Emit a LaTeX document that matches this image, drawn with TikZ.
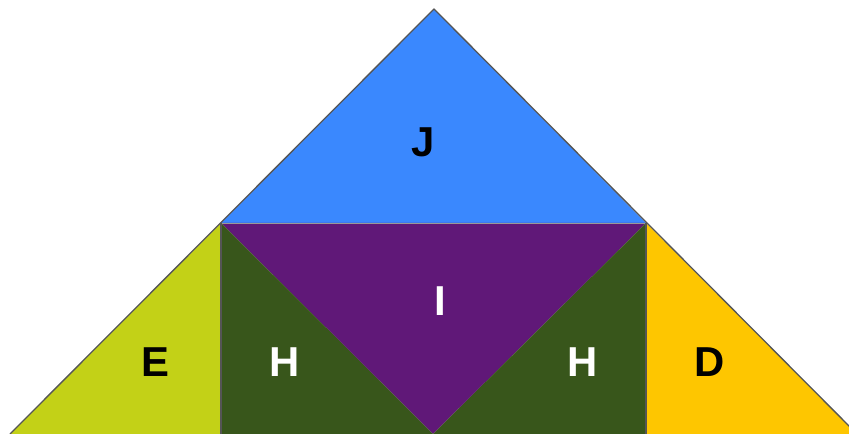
\documentclass[tikz,border=0pt]{standalone}
\usepackage{fontspec}
\setmainfont{Liberation Sans}
\usetikzlibrary{positioning}
\definecolor{skyblue}{HTML}{3A88FE}
\definecolor{plum}{HTML}{601878}
\definecolor{forest}{HTML}{38561B}
\definecolor{lime}{HTML}{C3D117}
\definecolor{amber}{HTML}{FEC600}
\definecolor{edgegray}{HTML}{555555}

\begin{document}
\begin{tikzpicture}[x=1bp, y=-1bp, edge/.style={draw=edgegray, line width=1.3bp, line join=round}, seam/.style={draw=edgegray!60, line width=0.9bp}, letter/.style={font=\fontsize{42}{42}\selectfont\bfseries, inner sep=0pt}]
\useasboundingbox (0,0) rectangle (849,434);
\clip (0,0) rectangle (849,434);
% corners of the pieces
\coordinate (apex) at (434,9);
\coordinate (jleft) at (221,223);
\coordinate (jright) at (646,223);
\coordinate (baseleft) at (10,434);
\coordinate (basemid) at (433,434);
\coordinate (baseright) at (857,434);
\coordinate (efoot) at (221,434);
\coordinate (dfoot) at (646,434);
% pieces
\fill[skyblue] (apex)--(jleft)--(jright)--cycle;
\fill[plum] (jleft)--(jright)--(basemid)--cycle;
\fill[forest] (jleft)--(efoot)--(basemid)--cycle;
\fill[forest] (jright)--(dfoot)--(basemid)--cycle;
\fill[lime] (jleft)--(baseleft)--(efoot)--cycle;
\fill[amber] (jright)--(dfoot)--(baseright)--cycle;
% seams and outline
\draw[seam] (jleft)--(jright);
\draw[edge] (jleft)--(efoot);
\draw[edge] (jright)--(dfoot);
\draw[edge] (baseleft)--(apex)--(baseright);
% labels
\node[letter] (jlab) at (423,142) {J};
\node[letter, text=white] (ilab) at (440,301) {I};
\node[letter] (elab) at (155,362) {E};
\node[letter, text=white] (hleftlab) at (284.5,362) {H};
\node[letter, text=white] (hrightlab) at (582.5,362) {H};
\node[letter] (dlab) at (709.5,362) {D};
\end{tikzpicture}
\end{document}
